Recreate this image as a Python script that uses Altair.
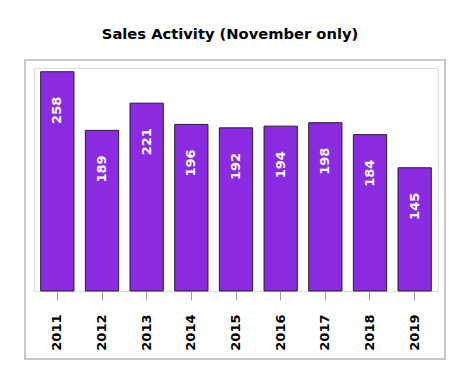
import altair as alt
import pandas as pd

years = ["2011", "2012", "2013", "2014", "2015", "2016", "2017", "2018", "2019"]
sales = [258, 189, 221, 196, 192, 194, 198, 184, 145]
title_text = "Sales Activity (November only)"

df = pd.DataFrame({"year": years, "sales": sales})

FONT = "DejaVu Sans"

base = alt.Chart(df)

x_enc = alt.X(
    "year:N",
    sort=years,
    scale=alt.Scale(paddingInner=0.255, paddingOuter=0.15),
    axis=alt.Axis(
        title=None,
        domain=False,
        ticks=True,
        tickSize=9,
        tickColor="#a0a0a0",
        tickWidth=1,
        labelAngle=270,
        labelFont=FONT,
        labelFontWeight="bold",
        labelFontSize=13,
        labelColor="#000000",
        labelPadding=14,
    ),
)
y_enc = alt.Y(
    "sales:Q",
    scale=alt.Scale(domain=[0, 262.4], nice=False),
    axis=None,
)

bars = base.mark_bar(color="#8A2BE2", stroke="#222222", strokeWidth=1).encode(
    x=x_enc, y=y_enc
)

labels = base.mark_text(
    angle=270,
    align="right",
    baseline="middle",
    dx=-25,
    color="white",
    font=FONT,
    fontWeight="bold",
    fontSize=13,
).encode(x=x_enc, y=y_enc, text="sales:Q")

frame = alt.Chart(pd.DataFrame({"a": [0]})).mark_rect(
    filled=False, stroke="#c8c8c8", strokeWidth=2
).encode(
    x=alt.value(-9), x2=alt.value(411), y=alt.value(-8), y2=alt.value(291)
)

chart = (
    alt.layer(frame, bars, labels)
    .properties(
        width=404,
        height=223,
        autosize=alt.AutoSizeParams(type="none"),
        padding={"left": 26, "top": 60, "right": 23, "bottom": 90},
        title=alt.TitleParams(
            text=title_text,
            font=FONT,
            fontSize=14.7,
            fontWeight="bold",
            color="#000000",
            anchor="middle",
            offset=17,
            dx=-6,
        ),
    )
    .configure_view(stroke="#b4b4b4", strokeWidth=2)
    .configure(background="white")
)

chart.save("out.html", embed_options={"renderer": "svg", "actions": False})
